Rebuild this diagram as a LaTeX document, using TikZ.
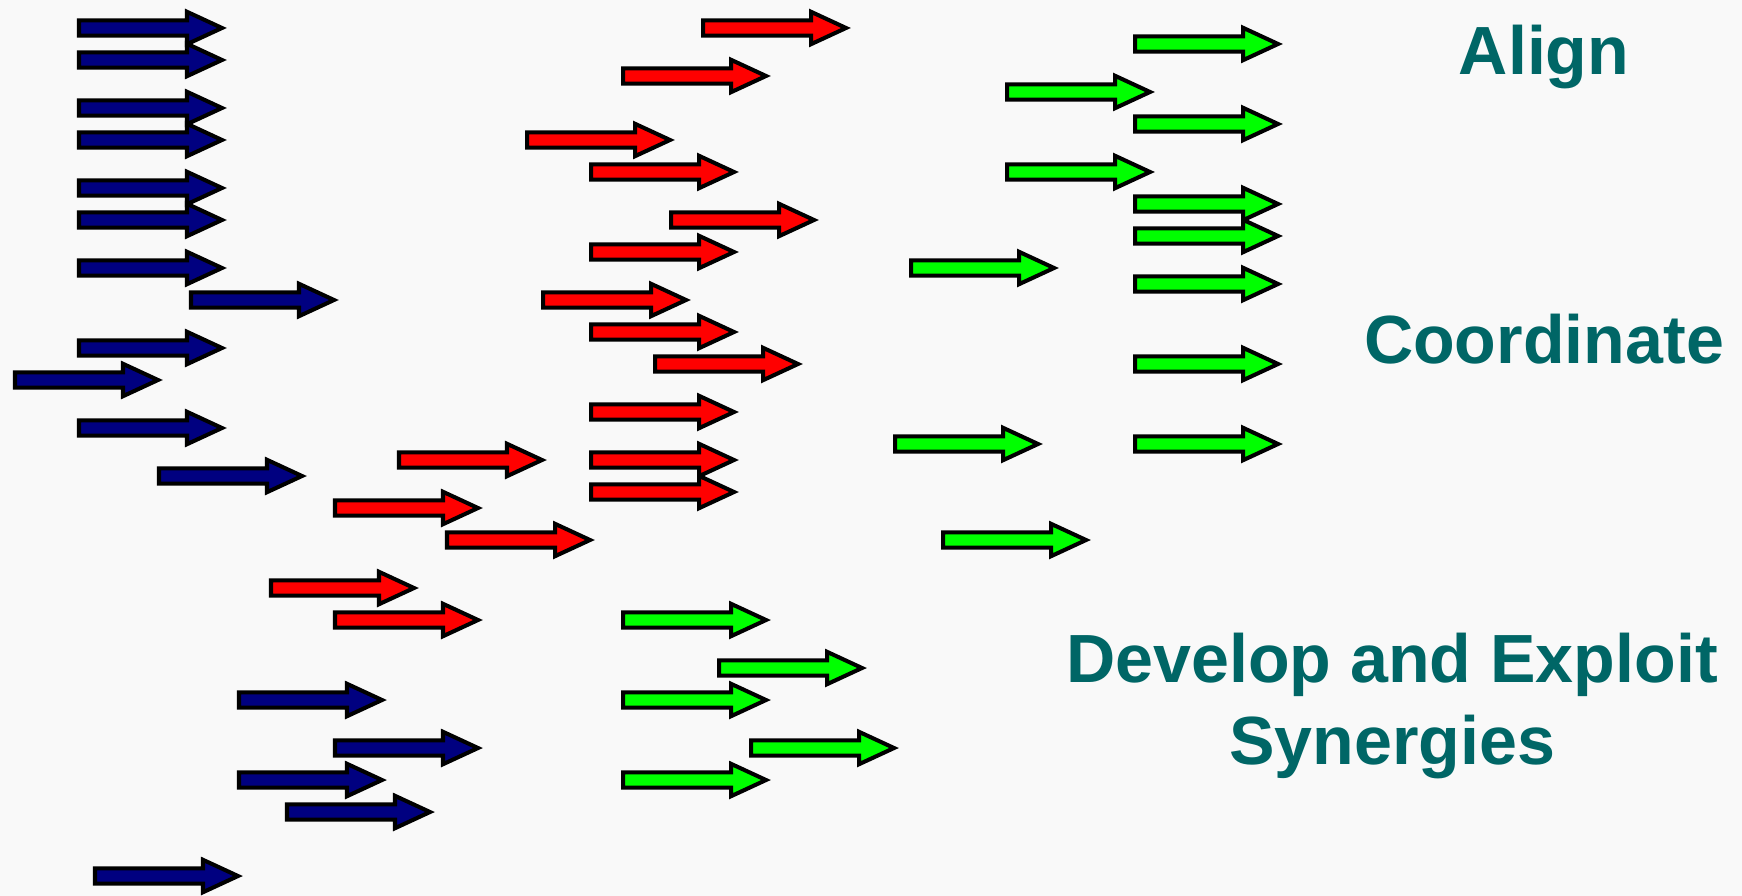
\documentclass[tikz,border=0pt]{standalone}
\usepackage{fontspec}
\setmainfont{Liberation Sans}
\definecolor{paper}{RGB}{249,249,249}
\definecolor{navyarrow}{RGB}{0,0,128}
\definecolor{redarrow}{RGB}{255,0,0}
\definecolor{greenarrow}{RGB}{0,255,0}
\definecolor{tealtext}{RGB}{0,102,102}
% one block arrow: colour, column, row
\newcommand{\flowarrow}[3]{%
  \draw[flow, fill=#1] ({0.15+0.16*#2},{-0.28-0.16*#3})
    ++(0,0.076) -- ++(1.08,0) -- ++(0,0.086) -- ++(0.35,-0.162)
    -- ++(-0.35,-0.162) -- ++(0,0.086) -- ++(-1.08,0) -- cycle;}
\begin{document}
\begin{tikzpicture}[flow/.style={draw=black, line width=1.15pt, line join=miter},
    label/.style={text=tealtext, font=\bfseries\fontsize{19.4}{23}\selectfont, anchor=base, inner sep=0pt}]
    \fill[paper] (0,0) rectangle (17.42,-8.96);
    \useasboundingbox (0,0) rectangle (17.42,-8.96);
    % left group
    \foreach \i/\k in {4/0, 4/2, 4/5, 4/7, 4/10, 4/12, 4/15, 11/17, 4/20, 0/22, 4/25, 9/28,
                       14/42, 20/45, 14/47, 17/49, 5/53}
        \flowarrow{navyarrow}{\i}{\k};
    % middle group
    \foreach \i/\k in {43/0, 38/3, 32/7, 36/9, 41/12, 36/14, 33/17, 36/19, 40/21, 36/24,
                       24/27, 36/27, 36/29, 20/30, 27/32, 16/35, 20/37}
        \flowarrow{redarrow}{\i}{\k};
    % right group
    \foreach \i/\k in {70/1, 62/4, 70/6, 62/9, 70/11, 70/13, 56/15, 70/16, 70/21, 55/26,
                       70/26, 58/32, 38/37, 44/40, 38/42, 46/45, 38/47}
        \flowarrow{greenarrow}{\i}{\k};
    \node[label] (align) at (15.44, -0.75) {Align};
    \node[label] (coordinate) at (15.44, -3.64) {Coordinate};
    \node[label] (develop) at (13.92, -6.82) {Develop and Exploit};
    \node[label] (synergies) at (13.92, -7.64) {Synergies};
\end{tikzpicture}
\end{document}
